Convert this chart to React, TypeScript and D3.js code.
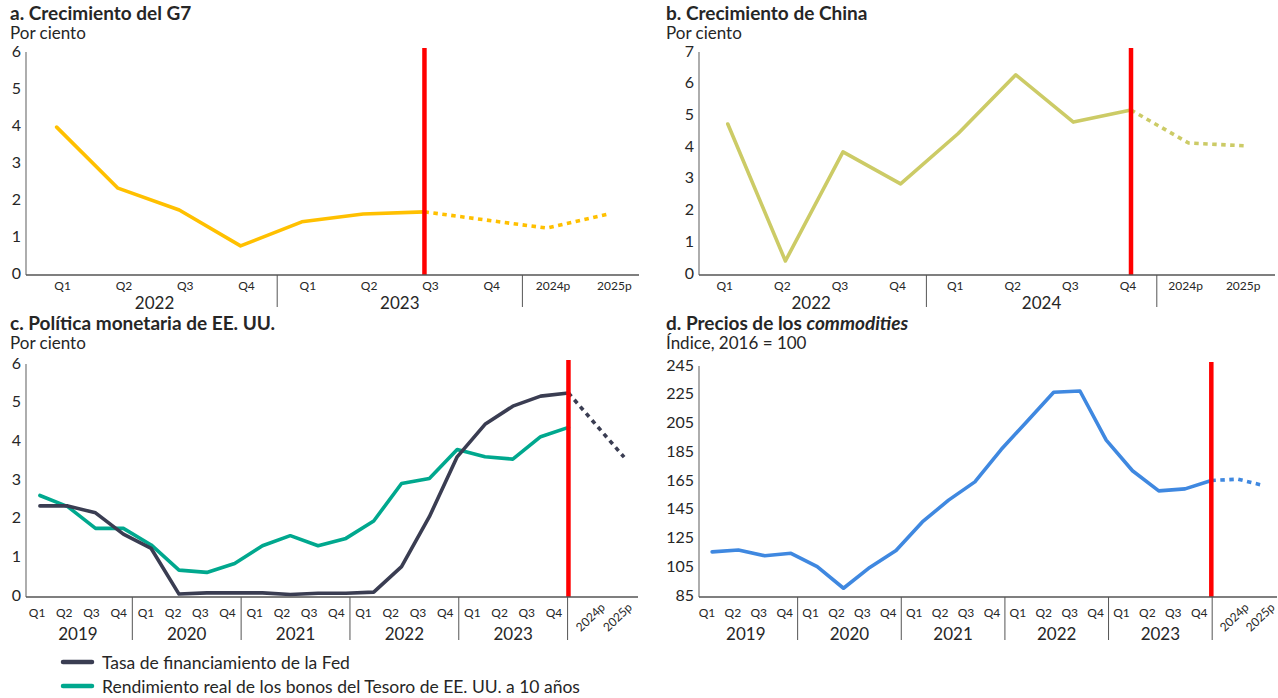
import React from "react";
import * as d3 from "d3";

// ---------- DATA ----------
const g7Categories = ["Q1", "Q2", "Q3", "Q4", "Q1", "Q2", "Q3", "Q4", "2024p", "2025p"];
const g7YearGroups = ["2022", "2023"];
const g7Actual = [3.97, 2.32, 1.73, 0.76, 1.41, 1.62, 1.68, null, null, null];
const g7Projected = [null, null, null, null, null, null, 1.68, null, 1.24, 1.62];
const g7Ticks = [0, 1, 2, 3, 4, 5, 6];

const chinaCategories = ["Q1", "Q2", "Q3", "Q4", "Q1", "Q2", "Q3", "Q4", "2024p", "2025p"];
const chinaYearGroups = ["2022", "2024"];
const chinaActual = [4.73, 0.41, 3.85, 2.84, 4.43, 6.28, 4.79, 5.17, null, null];
const chinaProjected = [null, null, null, null, null, null, null, 5.17, 4.13, 4.04];
const chinaTicks = [0, 1, 2, 3, 4, 5, 6, 7];

const quarterlyCategories = [
  "Q1", "Q2", "Q3", "Q4", "Q1", "Q2", "Q3", "Q4", "Q1", "Q2", "Q3", "Q4",
  "Q1", "Q2", "Q3", "Q4", "Q1", "Q2", "Q3", "Q4", "2024p", "2025p",
];
const quarterlyYearGroups = ["2019", "2020", "2021", "2022", "2023"];

const fedRate = [
  2.33, 2.33, 2.15, 1.6, 1.23, 0.05, 0.08, 0.08, 0.08, 0.04, 0.07, 0.07,
  0.1, 0.76, 2.05, 3.6, 4.44, 4.91, 5.17, 5.25, null, null,
];
const fedProjected = [
  null, null, null, null, null, null, null, null, null, null, null, null,
  null, null, null, null, null, null, null, 5.25, null, 3.59,
];
const treasuryYield = [
  2.6, 2.31, 1.75, 1.75, 1.32, 0.67, 0.61, 0.84, 1.3, 1.56, 1.3, 1.49,
  1.94, 2.91, 3.04, 3.79, 3.6, 3.54, 4.12, 4.36, null, null,
];
const usTicks = [0, 1, 2, 3, 4, 5, 6];

const commodityIndex = [
  115.7, 117, 113, 114.7, 105.4, 90.4, 104.9, 116.6, 136.5, 151.7, 164.4, 186.9,
  206.8, 226.7, 227.6, 193.4, 172.1, 158.1, 159.5, 165.3, null, null,
];
const commodityProjected = [
  null, null, null, null, null, null, null, null, null, null, null, null,
  null, null, null, null, null, null, null, 165.3, 166.3, 161.8,
];
const commodityTicks = [85, 105, 125, 145, 165, 185, 205, 225, 245];

const legendLabels = [
  "Tasa de financiamiento de la Fed",
  "Rendimiento real de los bonos del Tesoro de EE. UU. a 10 años",
];

// ---------- STYLE ----------
const FONT = "Lato, 'Noto Sans', 'DejaVu Sans', sans-serif";
const TEXT = "#262626";
const RED = "#ff0000";
const C_G7 = "#ffc000";
const C_CHINA = "#cccb66";
const C_FED = "#3a3d52";
const C_TSY = "#00a88e";
const C_COM = "#3f88e0";

type Series = { values: (number | null)[]; color: string; dashed?: boolean };

type PanelProps = {
  title: React.ReactNode;
  subtitle: string;
  titleX: number;
  titleY: number;
  x0: number;
  x1: number;
  yBottom: number;
  yTop: number;
  domain: [number, number];
  ticks: number[];
  categories: string[];
  yearGroups: string[];
  labelRange?: [number, number];
  labelOffset?: number;
  redIndex: number;
  series: Series[];
  qLabelY: number;
  yearY: number;
  sepBottom: number;
  rotateYearP: boolean;
};

function Panel(p: PanelProps) {
  const idx = p.categories.map((_, i) => i);
  const x = d3.scaleBand<number>().domain(idx).range([p.x0, p.x1]).padding(0);
  const cx = (i: number) => (x(i) as number) + x.bandwidth() / 2;
  const y = d3.scaleLinear().domain(p.domain).range([p.yBottom, p.yTop]);
  const lx = p.labelRange
    ? d3.scaleBand<number>().domain(idx).range(p.labelRange).padding(0)
    : null;
  const off = p.labelOffset ?? 0;
  const labelCenter = (i: number) =>
    lx ? (lx(i) as number) + lx.bandwidth() / 2 : cx(i) + off;
  const labelEdge = (i: number) => (lx ? (lx(i) as number) : (x(i) as number) + off);

  const line = d3
    .line<[number, number]>()
    .x((d) => cx(d[0]))
    .y((d) => y(d[1]));
  const toPairs = (vals: (number | null)[]) =>
    vals
      .map((v, i) => [i, v] as [number, number | null])
      .filter((d) => d[1] !== null) as [number, number][];

  const axisY = p.yBottom + 1;
  const nGroups = p.yearGroups.length;
  const sepIdx = d3.range(1, nGroups + 1).map((g) => g * 4);

  return (
    <g>
      <text x={p.titleX} y={p.titleY} fontSize={19} fontWeight={700} fill={TEXT}>
        {p.title}
      </text>
      <text x={p.titleX} y={p.titleY + 19} fontSize={17} fill={TEXT}>
        {p.subtitle}
      </text>
      {/* y ticks */}
      {p.ticks.map((t) => (
        <text
          key={t}
          x={p.x0 - 5}
          y={y(t) - 2}
          fontSize={16}
          textAnchor="end"
          dominantBaseline="central"
          fill={TEXT}
        >
          {t}
        </text>
      ))}
      {/* y axis */}
      <line x1={p.x0} x2={p.x0} y1={y(p.domain[1])} y2={axisY} stroke="#777" strokeWidth={1.2} />
      {/* lines */}
      {p.series.map((s, k) => (
        <path
          key={k}
          d={line(toPairs(s.values)) || ""}
          fill="none"
          stroke={s.color}
          strokeWidth={3.6}
          strokeDasharray={s.dashed ? "4.5 4.5" : undefined}
          strokeLinejoin="round"
          strokeLinecap={s.dashed ? "butt" : "round"}
        />
      ))}
      {/* red marker line */}
      <line
        x1={cx(p.redIndex)}
        x2={cx(p.redIndex)}
        y1={y(p.domain[1]) - 4}
        y2={axisY}
        stroke={RED}
        strokeWidth={4.5}
      />
      {/* x axis */}
      <line x1={p.x0} x2={p.x1} y1={axisY} y2={axisY} stroke="#555" strokeWidth={1.5} />
      {/* category labels */}
      {p.categories.map((c, i) => {
        const isP = c.endsWith("p");
        if (isP && p.rotateYearP) {
          const px = labelCenter(i) + 9;
          const py = p.qLabelY + 5;
          return (
            <text
              key={i}
              x={px}
              y={py}
              fontSize={12}
              textAnchor="middle"
              dominantBaseline="central"
              fill={TEXT}
              transform={`rotate(-44 ${px} ${py})`}
            >
              {c}
            </text>
          );
        }
        return (
          <text
            key={i}
            x={labelCenter(i)}
            y={p.qLabelY}
            fontSize={12}
            textAnchor="middle"
            dominantBaseline="central"
            fill={TEXT}
          >
            {c}
          </text>
        );
      })}
      {/* year group labels */}
      {p.yearGroups.map((g, k) => {
        const a = labelCenter(k * 4);
        const b = labelCenter(k * 4 + 3);
        return (
          <text
            key={g}
            x={(a + b) / 2}
            y={p.yearY}
            fontSize={17}
            textAnchor="middle"
            dominantBaseline="central"
            fill={TEXT}
          >
            {g}
          </text>
        );
      })}
      {/* group separators */}
      {sepIdx.map((i) => (
        <line
          key={i}
          x1={labelEdge(i)}
          x2={labelEdge(i)}
          y1={axisY}
          y2={p.sepBottom}
          stroke="#555"
          strokeWidth={1}
        />
      ))}
    </g>
  );
}

export default function App() {
  return (
    <svg
      width={1278}
      height={698}
      style={{ position: "absolute", left: 0, top: 0, background: "#fff" }}
      fontFamily={FONT}
    >
      <Panel
        title="a. Crecimiento del G7"
        subtitle="Por ciento"
        titleX={10}
        titleY={20}
        x0={26}
        x1={639}
        yBottom={274}
        yTop={52}
        domain={[0, 6]}
        ticks={g7Ticks}
        categories={g7Categories}
        yearGroups={g7YearGroups}
        labelOffset={6}
        redIndex={6}
        series={[
          { values: g7Actual, color: C_G7 },
          { values: g7Projected, color: C_G7, dashed: true },
        ]}
        qLabelY={285}
        yearY={302}
        sepBottom={307}
        rotateYearP={false}
      />
      <Panel
        title="b. Crecimiento de China"
        subtitle="Por ciento"
        titleX={666}
        titleY={20}
        x0={699}
        x1={1275}
        yBottom={274}
        yTop={52}
        domain={[0, 7]}
        ticks={chinaTicks}
        categories={chinaCategories}
        yearGroups={chinaYearGroups}
        labelOffset={-3}
        redIndex={7}
        series={[
          { values: chinaActual, color: C_CHINA },
          { values: chinaProjected, color: C_CHINA, dashed: true },
        ]}
        qLabelY={285}
        yearY={302}
        sepBottom={307}
        rotateYearP={false}
      />
      <Panel
        title="c. Política monetaria de EE. UU."
        subtitle="Por ciento"
        titleX={10}
        titleY={330}
        x0={26}
        x1={638}
        yBottom={596}
        yTop={364}
        domain={[0, 6]}
        ticks={usTicks}
        categories={quarterlyCategories}
        yearGroups={quarterlyYearGroups}
        labelRange={[23.5, 622]}
        redIndex={19}
        series={[
          { values: treasuryYield, color: C_TSY },
          { values: fedRate, color: C_FED },
          { values: fedProjected, color: C_FED, dashed: true },
        ]}
        qLabelY={612}
        yearY={633}
        sepBottom={640}
        rotateYearP={true}
      />
      <Panel
        title={
          <>
            d. Precios de los <tspan fontStyle="italic">commodities</tspan>
          </>
        }
        subtitle="Índice, 2016 = 100"
        titleX={666}
        titleY={330}
        x0={699}
        x1={1277}
        yBottom={596}
        yTop={366}
        domain={[85, 245]}
        ticks={commodityTicks}
        categories={quarterlyCategories}
        yearGroups={quarterlyYearGroups}
        labelRange={[694, 1264]}
        redIndex={19}
        series={[
          { values: commodityIndex, color: C_COM },
          { values: commodityProjected, color: C_COM, dashed: true },
        ]}
        qLabelY={612}
        yearY={633}
        sepBottom={640}
        rotateYearP={true}
      />
      {/* legend */}
      {legendLabels.map((l, i) => (
        <g key={l}>
          <line
            x1={63}
            x2={92}
            y1={662 + i * 24}
            y2={662 + i * 24}
            stroke={i === 0 ? C_FED : C_TSY}
            strokeWidth={4.5}
            strokeLinecap="round"
          />
          <text x={102} y={662 + i * 24} fontSize={17.5} dominantBaseline="central" fill={TEXT}>
            {l}
          </text>
        </g>
      ))}
    </svg>
  );
}
